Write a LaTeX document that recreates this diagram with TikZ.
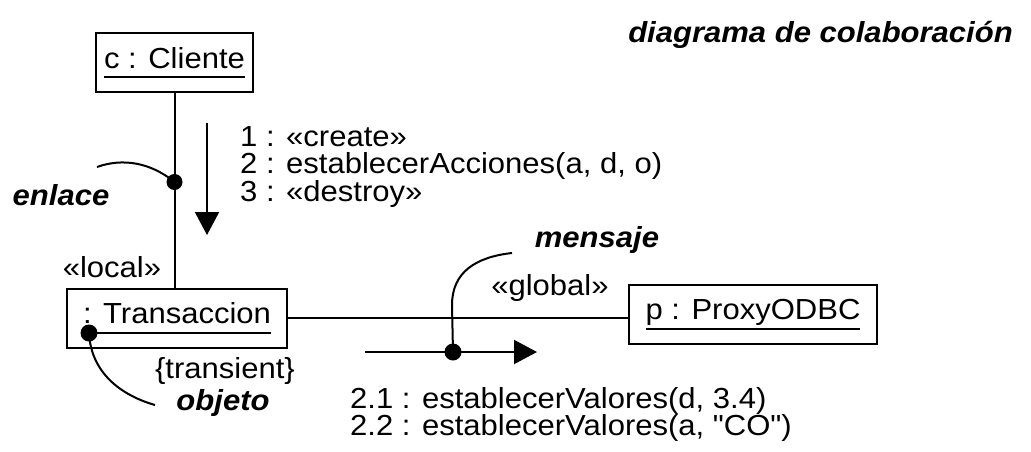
\documentclass[tikz,border=0pt]{standalone}
\usepackage{fontspec}
\setmainfont{Liberation Sans}[FakeStretch=1.07,Ligatures=TeXOff]
\usetikzlibrary{arrows.meta}
\newcommand{\objname}[1]{\setbox0\hbox{#1}\rlap{\rule[-10pt]{\wd0}{1.8pt}}\box0}
\begin{document}
\begin{tikzpicture}[x=1pt,y=-1pt,objbox/.style={draw,line width=2pt,text height=21pt,text depth=10pt,minimum height=59pt,inner sep=0pt,font=\fontsize{29}{30}\selectfont},note/.style={font=\fontsize{29}{30}\selectfont,inner sep=0pt},keyword/.style={font=\fontsize{29}{30}\selectfont\bfseries\itshape,inner sep=0pt},link/.style={line width=2pt},msg/.style={line width=2pt,-{Triangle[length=23pt,width=24pt]}},pointer/.style={line width=2pt}]
\useasboundingbox (0,0) rectangle (1031,451);
\node[keyword,anchor=base east] (title) at (1013,42) {diagrama de colaboración};
\node[objbox,minimum width=157pt] (cliente) at (174.5,62.5) {\objname{c : Cliente}};
\node[objbox,minimum width=220pt] (trans) at (177,318) {\objname{: Transaccion}};
\node[objbox,minimum width=248pt] (proxy) at (753,314) {\objname{p : ProxyODBC}};
\draw[link] (cliente.south) -- (cliente.south |- trans.north);
\draw[link] (trans.east) -- (trans.east -| proxy.west);
\coordinate (linkdot) at (174.5,182);
\coordinate (linkptr) at (97,167);
\fill (linkdot) circle (8pt);
\draw[pointer] (linkptr) .. controls (122,158) and (150,162) .. (linkdot);
\node[keyword,anchor=base] (enlace) at (61,205) {enlace};
\coordinate (m1s) at (207,123);
\coordinate (m1e) at (207,235);
\draw[msg] (m1s) -- (m1e);
\node[note,anchor=base west] (m1) at (240,146) {1 : «create»};
\node[note,anchor=base west] (m2) at (240,173.5) {2 : establecerAcciones(a, d, o)};
\node[note,anchor=base west] (m3) at (240,201) {3 : «destroy»};
\node[note,anchor=base] (local) at (112,277) {«local»};
\node[note,anchor=base] (transient) at (225,378) {\{transient\}};
\node[keyword,anchor=base] (objeto) at (223,410) {objeto};
\coordinate (transdot) at (89,333);
\coordinate (transptr) at (155,405);
\fill (transdot) circle (8.5pt);
\draw[pointer] (transdot) .. controls (91,372) and (120,395) .. (transptr);
\node[note,anchor=base] (global) at (550,295) {«global»};
\node[keyword,anchor=base] (mensaje) at (597,247) {mensaje};
\coordinate (m2s) at (365,352);
\coordinate (m2e) at (537,352);
\draw[msg] (m2s) -- (m2e);
\coordinate (msgdot) at (453,352);
\coordinate (msgptr) at (512,253);
\fill (msgdot) circle (8.5pt);
\draw[pointer] (msgdot) -- (452,305) .. controls (452,272) and (476,257) .. (msgptr);
\node[note,anchor=base west] (v1) at (350,408) {2.1 : establecerValores(d, 3.4)};
\node[note,anchor=base west] (v2) at (350,435.5) {2.2 : establecerValores(a, "CO")};
\end{tikzpicture}
\end{document}
